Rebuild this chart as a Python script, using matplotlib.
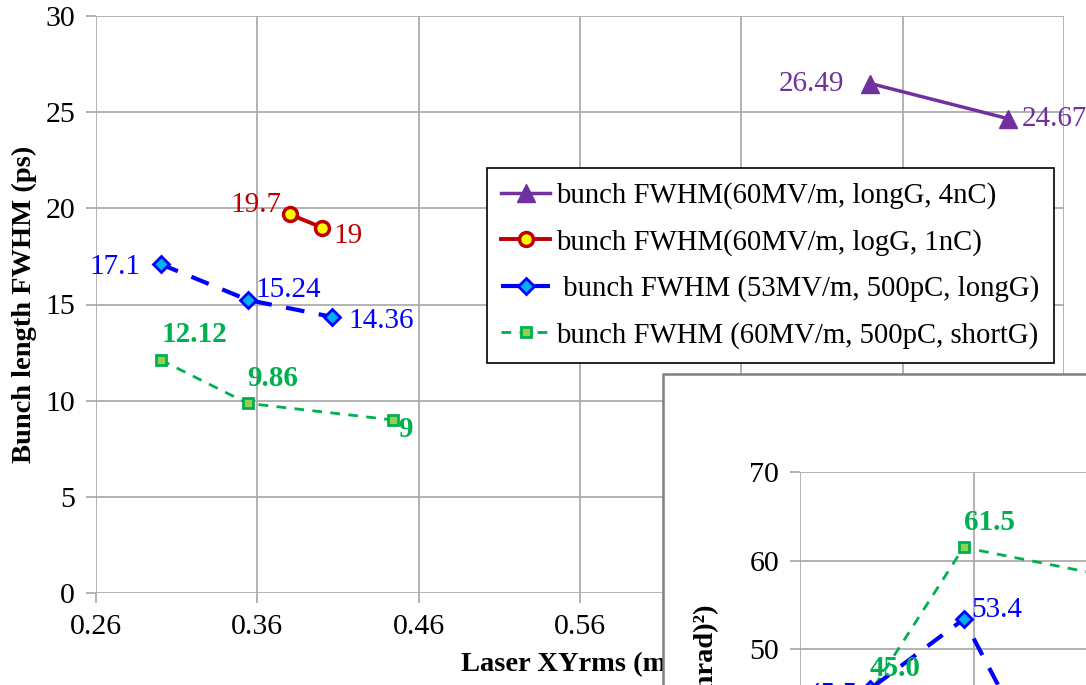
import matplotlib
matplotlib.use('Agg')
import matplotlib.pyplot as plt
from matplotlib.patches import Rectangle

plt.rcParams['font.family'] = ['Liberation Serif', 'DejaVu Serif']

# main chart: bunch length vs laser XYrms
x_4nC = [0.74, 0.825]
y_4nC = [26.49, 24.67]
x_1nC = [0.38, 0.40]
y_1nC = [19.7, 19.0]
x_long = [0.30, 0.354, 0.406]
y_long = [17.1, 15.24, 14.36]
x_short = [0.30, 0.354, 0.444]
y_short = [12.12, 9.86, 9.0]

names = ['bunch FWHM(60MV/m, longG, 4nC)',
         'bunch FWHM(60MV/m, logG, 1nC)',
         ' bunch FWHM (53MV/m, 500pC, longG)',
         'bunch FWHM (60MV/m, 500pC, shortG)']

xticks = [0.26, 0.36, 0.46, 0.56, 0.66, 0.76, 0.86]
yticks = [0, 5, 10, 15, 20, 25, 30]

# inset chart (cut off by the picture edge)
x_in_long = [0.30, 0.354, 0.406]
y_in_long = [45.5, 53.4, 34.0]
x_in_short = [0.30, 0.354, 0.444]
y_in_short = [45.0, 61.5, 58.0]
in_yticks = [0, 10, 20, 30, 40, 50, 60, 70]

purple = '#7030A0'
red = '#C00000'
blue = '#0000FF'
green = '#00B050'
grid_c = '#a6a6a6'

W, H = 1086, 685
fig = plt.figure(figsize=(W / 100, H / 100), dpi=100)

def px_box(l, t, r, b):
    return [l / W, 1 - b / H, (r - l) / W, (b - t) / H]

ax = fig.add_axes(px_box(96, 16, 1064, 593), zorder=0)

p1, = ax.plot(x_4nC, y_4nC, '-', color=purple, lw=2.5, marker='^', ms=13,
              mfc=purple, mec=purple)
p2, = ax.plot(x_1nC, y_1nC, '-', color=red, lw=2.8, marker='o', ms=10,
              mfc='#FFFF00', mec=red, mew=2.5)
p3, = ax.plot(x_long, y_long, color=blue, lw=3, dashes=(4.5, 3.5), marker='D',
              ms=8, mfc='#00B0F0', mec=blue, mew=2)
p4, = ax.plot(x_short, y_short, color=green, lw=2, dashes=(3.5, 3), marker='s',
              ms=7, mfc='#92D050', mec=green, mew=2)

def lab(a, x, y, txt, dx, dy, color, ha='left', bold=False):
    a.annotate(txt, (x, y), xytext=(dx, dy), textcoords='offset pixels',
               ha=ha, va='center', color=color, fontsize=21,
               fontweight='bold' if bold else 'normal')

lab(ax, x_4nC[0], y_4nC[0], f'{y_4nC[0]:g}', -26, 0, purple, 'right')
lab(ax, x_4nC[1], y_4nC[1], f'{y_4nC[1]:g}', 14, 0, purple)
lab(ax, x_1nC[0], y_1nC[0], f'{y_1nC[0]:g}', -8, 9, red, 'right')
lab(ax, x_1nC[1], y_1nC[1], f'{y_1nC[1]:g}', 12, -8, red)
lab(ax, x_long[0], y_long[0], f'{y_long[0]:g}', -20, -3, blue, 'right')
lab(ax, x_long[1], y_long[1], f'{y_long[1]:g}', 8, 10, blue)
lab(ax, x_long[2], y_long[2], f'{y_long[2]:g}', 17, -4, blue)
lab(ax, x_short[0], y_short[0], f'{y_short[0]:g}', 1, 25, green, bold=True)
lab(ax, x_short[1], y_short[1], f'{y_short[1]:g}', 0, 25, green, bold=True)
lab(ax, x_short[2], y_short[2], f'{y_short[2]:g}', 5, -10, green, bold=True)

ax.set_xlim(xticks[0], xticks[-1])
ax.set_ylim(yticks[0], yticks[-1])
ax.set_xticks(xticks)
ax.set_yticks(yticks)
ax.set_xticklabels([f'{v:.2f}' for v in xticks])
ax.grid(True, color=grid_c, lw=1.2)
ax.set_axisbelow(True)
for s in ax.spines.values():
    s.set_visible(False)
ax.tick_params(length=7, width=1.2, color=grid_c, labelsize=21.5, pad=8)
ax.set_xlabel('Laser XYrms (mm)', fontsize=20.5, fontweight='bold', labelpad=9)
ax.set_ylabel('Bunch length FWHM (ps)', fontsize=20.5, fontweight='bold',
              labelpad=6)

leg = ax.legend([p1, p2, p3, p4], names, loc='upper left',
                bbox_to_anchor=(487 / W, 1 - 168 / H),
                bbox_transform=fig.transFigure, fontsize=20.7, fancybox=False,
                framealpha=1, edgecolor='black', borderaxespad=0,
                handlelength=1.7, handletextpad=0.2, labelspacing=0.68,
                borderpad=0.5)
leg.get_frame().set_linewidth(1.2)

# inset chart panel
fig.patches.append(Rectangle((663 / W, -1), 1, 1 + (1 - 374 / H),
                             transform=fig.transFigure, facecolor='white',
                             edgecolor='#7f7f7f', lw=1.8, zorder=1))

ax2 = fig.add_axes(px_box(800, 472, 800 + 1740 * 0.6, 472 + 621), zorder=2)
ax2.patch.set_alpha(0)
ax2.plot(x_in_short, y_in_short, color=green, lw=2, dashes=(3.5, 3), marker='s',
         ms=7, mfc='#92D050', mec=green, mew=2)
ax2.plot(x_in_long, y_in_long, color=blue, lw=3, dashes=(4.5, 3.5), marker='D',
         ms=8, mfc='#00B0F0', mec=blue, mew=2)
lab(ax2, x_in_short[0], y_in_short[0], f'{y_in_short[0]:.1f}', 0, 25, green, bold=True)
lab(ax2, x_in_short[1], y_in_short[1], f'{y_in_short[1]:.1f}', 0, 25, green, bold=True)
lab(ax2, x_in_long[0], y_in_long[0], f'{y_in_long[0]:.1f}', -12, -6, blue, 'right')
lab(ax2, x_in_long[1], y_in_long[1], f'{y_in_long[1]:.1f}', 8, 9, blue)
ax2.set_xlim(xticks[0], xticks[-1])
ax2.set_ylim(in_yticks[0], in_yticks[-1])
ax2.set_xticks(xticks)
ax2.set_yticks(in_yticks)
ax2.grid(True, color=grid_c, lw=1.2)
ax2.set_axisbelow(True)
for s in ax2.spines.values():
    s.set_visible(False)
ax2.tick_params(length=7, width=1.2, color=grid_c, labelsize=21.5, pad=8)
fig.text(707 / W, 1 - 604 / H, 'Emittance ((mm mrad)²)', rotation=90,
         ha='center', va='top', fontsize=20.5, fontweight='bold')

fig.savefig('out.png', dpi=100)
